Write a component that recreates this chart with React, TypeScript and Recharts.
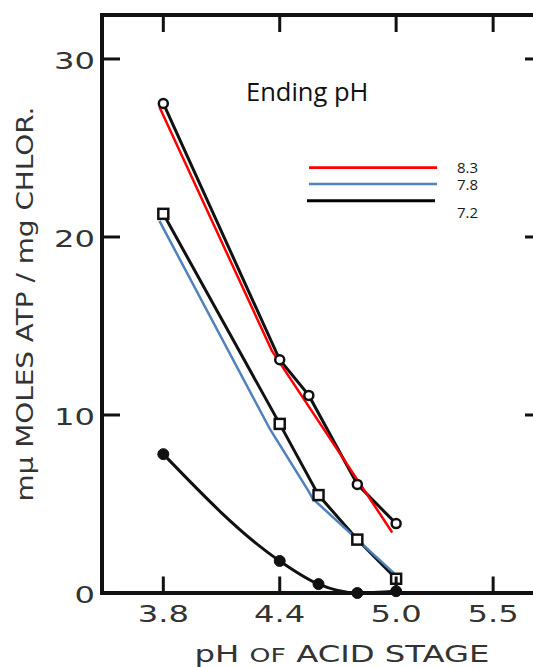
import React from 'react';
import { LineChart, Line, XAxis, YAxis, Legend } from 'recharts';

// ---- data ----
const acidPhOpen = [3.8, 4.4, 4.55, 4.8, 5.0];
const atpOpenCircles = [27.5, 13.1, 11.1, 6.1, 3.9];
const acidPhSquare = [3.8, 4.4, 4.6, 4.8, 5.0];
const atpOpenSquares = [21.3, 9.5, 5.5, 3.0, 0.8];
const acidPhFilled = [3.8, 4.4, 4.6, 4.8, 5.0];
const atpFilledCircles = [7.8, 1.8, 0.5, 0.0, 0.1];
const redOverlayPh = [3.78, 4.36, 4.98];
const redOverlayAtp = [27.3, 13.6, 3.4];
const blueOverlayPh = [3.78, 4.35, 4.55, 4.57, 4.99];
const blueOverlayAtp = [20.9, 9.2, 5.7, 5.3, 1.1];
const xTicks = [3.8, 4.4, 5.0, 5.5];
const yTicks = [0, 10, 20, 30];
const legendTitle = 'Ending pH';
const legendLabels = ['8.3', '7.8', '7.2'];
const legendColors = ['#ff0000', '#4f81bd', '#000000'];
const yLabel = 'mµ MOLES ATP / mg CHLOR.';

const toPoints = (xs: number[], ys: number[]) => xs.map((x, i) => ({ ph: x, atp: ys[i] }));
const openCircleData = toPoints(acidPhOpen, atpOpenCircles);
const openSquareData = toPoints(acidPhSquare, atpOpenSquares);
const filledCircleData = toPoints(acidPhFilled, atpFilledCircles);
const redData = toPoints(redOverlayPh, redOverlayAtp);
const blueData = toPoints(blueOverlayPh, blueOverlayAtp);

const X_DOMAIN: [number, number] = [3.484, 5.757];
const Y_DOMAIN: [number, number] = [0, 32.47];

const ink = '#111111';
const labelInk = '#333333';
const scanFont = '"DejaVu Sans", sans-serif';
const officeFont = '"Open Sans", "Noto Sans", sans-serif';

const stretchLen = (s: string, fs: number) => {
  let w = 0;
  for (const c of s) w += c === '.' ? 0.318 : 0.636;
  return w * fs * 1.4;
};

const BottomTick = (props: any) => {
  const { x, y, payload } = props;
  const label = Number(payload.value).toFixed(1);
  return (
    <g>
      <line x1={x} x2={x} y1={y} y2={y - 16.5} stroke={ink} strokeWidth={3} />
      <text x={x} y={y + 28.5} textAnchor="middle" fontFamily={scanFont} fontSize={23} fill={labelInk}
        textLength={stretchLen(label, 23)} lengthAdjust="spacingAndGlyphs">{label}</text>
    </g>
  );
};

const TopTick = (props: any) => {
  const { x, y } = props;
  return <line x1={x} x2={x} y1={y} y2={y + 17} stroke={ink} strokeWidth={3} />;
};

const LeftTick = (props: any) => {
  const { x, y, payload } = props;
  const label = String(payload.value);
  return (
    <g>
      <line x1={x} x2={x + 18} y1={y} y2={y} stroke={ink} strokeWidth={3} />
      <text x={x - 7} y={y + 10} textAnchor="end" fontFamily={scanFont} fontSize={23} fill={labelInk}
        textLength={stretchLen(label, 23)} lengthAdjust="spacingAndGlyphs">{label}</text>
    </g>
  );
};

const RightTick = (props: any) => {
  const { x, y } = props;
  return <line x1={x} x2={x - 18} y1={y} y2={y} stroke={ink} strokeWidth={3} />;
};

const SquareDot = (props: any) => {
  const { cx, cy, index } = props;
  return (
    <rect key={`sq-${index}`} x={cx - 5} y={cy - 5} width={10} height={10}
      fill="#ffffff" stroke={ink} strokeWidth={2.5} />
  );
};

const XAxisLabel = () => (
  <text x={342} y={661.5} textAnchor="middle" fontFamily={scanFont} fontSize={23} fill={labelInk}
    textLength={295} lengthAdjust="spacingAndGlyphs">
    pH <tspan fontSize={19}>OF</tspan> ACID STAGE
  </text>
);

const YAxisLabel = () => (
  <text x={33} y={304} transform="rotate(-90 33 304)" textAnchor="middle" fontFamily={scanFont}
    fontSize={23} fill={labelInk} textLength={395} lengthAdjust="spacingAndGlyphs">
    {yLabel}
  </text>
);

const LegendContent = () => {
  const lineYs = [97.7, 114, 130.7];
  const lineX1 = [79, 79, 77];
  const textYs = [102.5, 119.5, 147.5];
  return (
    <svg width={270} height={160} style={{ display: 'block', overflow: 'visible' }}>
      <text x={16} y={30.7} fontFamily={officeFont} fontSize={25.5} fill={ink}>{legendTitle}</text>
      {legendLabels.map((lab, i) => (
        <g key={lab}>
          <line x1={lineX1[i]} x2={lineX1[i] + 128} y1={lineYs[i]} y2={lineYs[i]}
            stroke={legendColors[i]} strokeWidth={i === 2 ? 3 : 2.7} />
          <text x={227} y={textYs[i]} fontFamily={officeFont} fontSize={15} fill="#1a1a1a">{lab}</text>
        </g>
      ))}
    </svg>
  );
};

export default function App() {
  return (
    <div style={{ position: 'absolute', left: 0, top: 0, width: 533, height: 667, background: '#ffffff' }}>
      <LineChart width={533} height={667} margin={{ top: 0, right: -20, bottom: 0, left: 0 }}>
        <XAxis xAxisId={0} dataKey="ph" type="number" domain={X_DOMAIN} ticks={xTicks} interval={0}
          orientation="bottom" height={74} tickSize={0} tickMargin={0} tickLine={false}
          axisLine={{ stroke: ink, strokeWidth: 4, strokeLinecap: 'square' }} tick={BottomTick}
          label={XAxisLabel} />
        <XAxis xAxisId="top" dataKey="ph" type="number" domain={X_DOMAIN} ticks={xTicks} interval={0}
          orientation="top" height={15} tickSize={0} tickMargin={0} tickLine={false} allowDataOverflow
          axisLine={{ stroke: ink, strokeWidth: 4, strokeLinecap: 'square' }} tick={TopTick} />
        <YAxis yAxisId={0} type="number" domain={Y_DOMAIN} ticks={yTicks} interval={0}
          orientation="left" width={102} tickSize={0} tickMargin={0} tickLine={false}
          axisLine={{ stroke: ink, strokeWidth: 4, strokeLinecap: 'square' }} tick={LeftTick}
          label={YAxisLabel} />
        <YAxis yAxisId="right" type="number" domain={Y_DOMAIN} ticks={yTicks} interval={0}
          orientation="right" width={10} tickSize={0} tickMargin={0} tickLine={false} allowDataOverflow
          axisLine={false} tick={RightTick} />
        <Legend layout="horizontal" verticalAlign="middle" align="center" content={LegendContent}
          wrapperStyle={{ left: 230, top: 70, width: 270, height: 160 }} />
        <Line data={openCircleData} dataKey="atp" type="linear" stroke={ink} strokeWidth={3}
          dot={{ r: 4.5, fill: '#ffffff', stroke: ink, strokeWidth: 2.5 }} isAnimationActive={false} />
        <Line data={openSquareData} dataKey="atp" type="linear" stroke={ink} strokeWidth={3}
          dot={SquareDot} isAnimationActive={false} />
        <Line data={filledCircleData} dataKey="atp" type="monotone" stroke={ink} strokeWidth={3}
          dot={{ r: 5.5, fill: ink, stroke: ink, strokeWidth: 1 }} isAnimationActive={false} />
        <Line data={redData} dataKey="atp" type="linear" stroke="#ff0000" strokeWidth={2.5}
          dot={false} isAnimationActive={false} />
        <Line data={blueData} dataKey="atp" type="linear" stroke="#4f81bd" strokeWidth={2.5}
          dot={false} isAnimationActive={false} />
      </LineChart>
    </div>
  );
}
